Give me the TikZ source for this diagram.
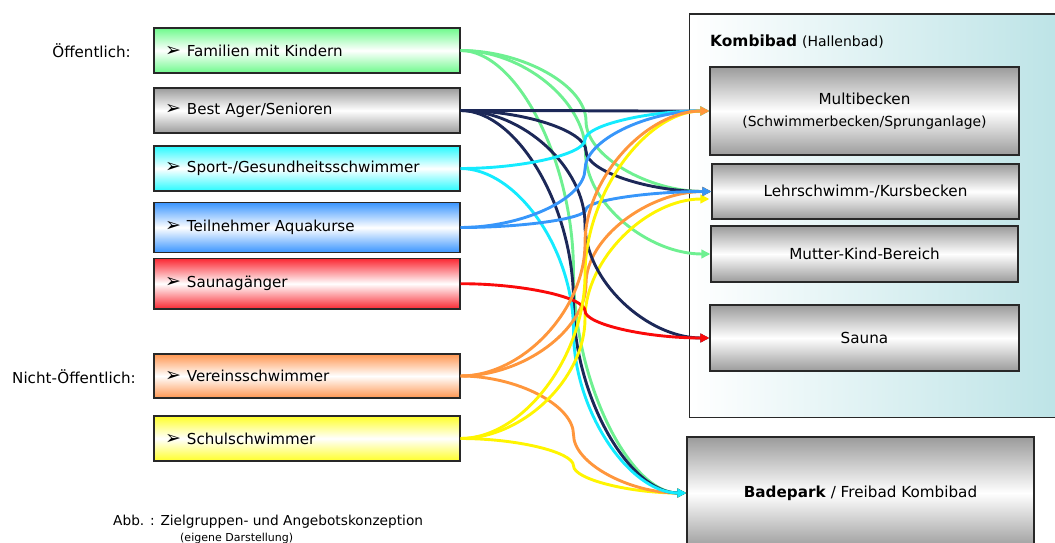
\documentclass[tikz,border=0pt]{standalone}
\usepackage{fontspec}
\setmainfont{DejaVu Sans}
\usetikzlibrary{arrows.meta,calc}
\definecolor{cgreen}{RGB}{110,240,145}
\definecolor{bgreen}{RGB}{110,250,140}
\definecolor{cnavy}{RGB}{28,40,88}
\definecolor{bgrey}{RGB}{155,155,155}
\definecolor{ccyan}{RGB}{20,235,255}
\definecolor{bcyan}{RGB}{40,250,255}
\definecolor{cblue}{RGB}{55,150,250}
\definecolor{bblue}{RGB}{60,150,255}
\definecolor{cred}{RGB}{250,10,10}
\definecolor{bred}{RGB}{250,40,50}
\definecolor{corange}{RGB}{255,150,60}
\definecolor{borange}{RGB}{255,150,80}
\definecolor{cyellow}{RGB}{255,245,0}
\definecolor{byellow}{RGB}{255,255,40}
\definecolor{teal}{RGB}{185,226,229}
\definecolor{frame}{RGB}{40,40,40}
\newcommand{\bul}{{\fontsize{19}{17}\selectfont ➢}\hspace{6pt}}
\begin{document}
\begin{tikzpicture}[x=1pt,y=1pt,
  lbox/.style={draw=frame,line width=1.2pt,minimum width=306pt,minimum height=45pt,
    text width=284pt,align=left,inner xsep=11pt,font=\fontsize{15.1}{17}\selectfont,
    top color=#1,bottom color=#1,middle color=white},
  gbox/.style={draw=frame,line width=1.2pt,top color=bgrey,bottom color=bgrey,middle color=white,
    align=center,inner sep=0pt,font=\fontsize{15.2}{17}\selectfont},
  lbl/.style={font=\fontsize{15.1}{17}\selectfont,inner sep=0pt},
  pc/.style={to path={let \p1=(\tikztostart), \p2=(\tikztotarget),
    \n1={0.5*\x1+0.5*\x2} in
    .. controls ({0.5*\x1+0.5*\n1},\y1) and (\n1,{0.75*\y1+0.25*\y2}) .. (\n1,{0.5*\y1+0.5*\y2})
    .. controls (\n1,{0.25*\y1+0.75*\y2}) and ({0.5*\n1+0.5*\x2},\y2) .. (\tikztotarget)}},
  con/.style={draw=#1,line width=2.9pt,-{Triangle[length=9pt,width=8.5pt]},pc}
]
\clip (0,0) rectangle (1055,-543);
% left labels
\node[lbl,anchor=east] (oef) at (131,-51) {Öffentlich:};
\node[lbl,anchor=east] (noef) at (136,-377) {Nicht-Öffentlich:};
% left boxes
\node[lbox=bgreen] (fam) at (307,-50.5) {\bul Familien mit Kindern};
\node[lbox=bgrey] (best) at (307,-110.5) {\bul Best Ager/Senioren};
\node[lbox=bcyan] (sport) at (307,-168.5) {\bul Sport-/Gesundheitsschwimmer};
\node[lbox=bblue,minimum height=49.5pt] (aqua) at (307,-227.5) {\bul Teilnehmer Aquakurse};
\node[lbox=bred,minimum height=50.5pt] (saug) at (307,-283.7) {\bul Saunagänger};
\node[lbox=borange,minimum height=44pt] (ver) at (307,-376) {\bul Vereinsschwimmer};
\node[lbox=byellow] (schul) at (307,-438.5) {\bul Schulschwimmer};
% Kombibad frame
\node[draw=frame,line width=1.1pt,left color=white,right color=teal,minimum width=390pt,minimum height=403pt,anchor=north west] (kombi) at (689,-13.5) {};
\node[anchor=west,inner sep=0pt,font=\fontsize{15.4}{17}\selectfont] (ktitle) at (710,-42) {\textbf{Kombibad} {\fontsize{14}{15}\selectfont(Hallenbad)}};
% right boxes
\node[gbox,minimum width=309pt,minimum height=88pt] (multi) at (864.5,-111) {Multibecken\\[5pt]{\fontsize{13.9}{15}\selectfont(Schwimmerbecken/Sprunganlage)}};
\node[gbox,minimum width=307pt,minimum height=55pt] (lehr) at (865.5,-191.5) {Lehrschwimm-/Kursbecken};
\node[gbox,minimum width=307pt,minimum height=56pt] (mkb) at (864.5,-254) {Mutter-Kind-Bereich};
\node[gbox,minimum width=309pt,minimum height=66pt] (sauna) at (864.5,-338) {Sauna};
\node[gbox,minimum width=347pt,minimum height=112pt] (bade) at (860.5,-493) {\textbf{Badepark} / Freibad Kombibad};
% caption
\node[anchor=west,inner sep=0pt,font=\fontsize{13.7}{16}\selectfont] (cap) at (113,-522) {Abb. : Zielgruppen- und Angebotskonzeption};
\node[anchor=west,inner sep=0pt,font=\fontsize{11}{12}\selectfont] (cap2) at (180,-538.5) {(eigene Darstellung)};
% connectors
\coordinate (lehrlow) at ($(lehr.west)+(-2,-7.5)$);
\draw[con=cyellow] (schul.east) to (bade.west);
\draw[con=corange] (ver.east) to (bade.west);
\draw[con=cgreen] (fam.east) to (bade.west);
\draw[con=cnavy] (best.east) to (bade.west);
\draw[con=ccyan] (sport.east) to (bade.west);
\draw[con=cgreen] (fam.east) to (mkb.west);
\draw[con=cgreen] (fam.east) to (lehr.west);
\draw[con=cnavy] (best.east) to (lehr.west);
\draw[con=cyellow] (schul.east) to (lehrlow);
\draw[con=corange] (ver.east) to (lehr.west);
\draw[con=cblue] (aqua.east) to (lehr.west);
\draw[con=cnavy] (best.east) to (sauna.west);
\draw[con=cred] (saug.east) to (sauna.west);
\draw[con=cnavy] (best.east) to (multi.west);
\draw[con=ccyan] (sport.east) to (multi.west);
\draw[con=cblue] (aqua.east) to (multi.west);
\draw[con=cyellow] (schul.east) to (multi.west);
\draw[con=corange] (ver.east) to (multi.west);
\end{tikzpicture}
\end{document}
